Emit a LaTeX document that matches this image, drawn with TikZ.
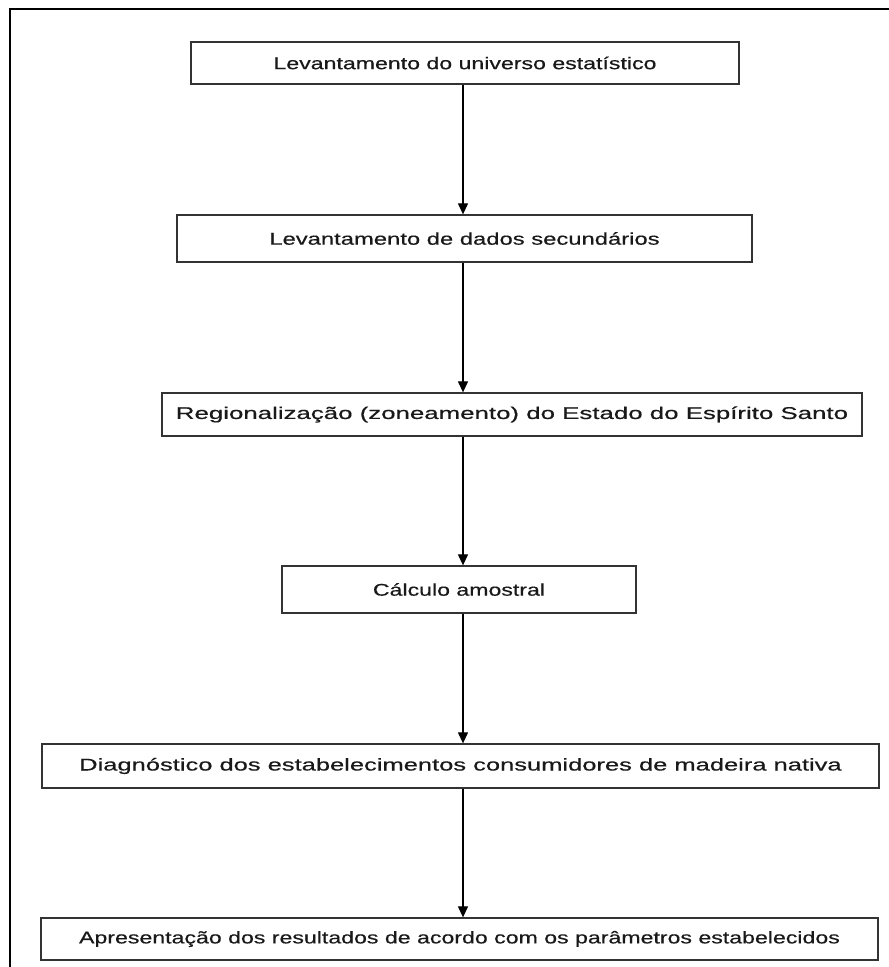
\documentclass[tikz,border=0pt]{standalone}
\usepackage{fontspec}
\setmainfont{Liberation Sans}[FakeBold=0.4]
\usepackage{graphicx}
\usetikzlibrary{arrows.meta}
\begin{document}
\begin{tikzpicture}[x=1pt,y=-1pt,
  stepbox/.style={draw=black!80,line width=1.3pt,inner sep=0pt,
    font=\fontsize{17}{20}\selectfont,text=black!90},
  arr/.style={draw=black,line width=1.2pt,-{Triangle[length=11pt,width=10pt]}}]
\useasboundingbox (0,0) rectangle (889,967);
\begin{scope}
\clip (0,0) rectangle (889,967);
\draw[line width=2.2pt] (10,9) rectangle (900,980);
\end{scope}
\newcommand{\wt}[2]{\scalebox{#1}[1]{#2}}
\node[stepbox,minimum width=548pt,minimum height=42pt] (b1) at (465,63) {\wt{1.36}{Levantamento do universo estatístico}};
\node[stepbox,minimum width=575pt,minimum height=47pt] (b2) at (464.5,238.5) {\wt{1.40}{Levantamento de dados secundários}};
\node[stepbox,minimum width=700pt,minimum height=43pt] (b3) at (512,414.5) {\wt{1.52}{Regionalização (zoneamento) do Estado do Espírito Santo}\hspace{22pt}};
\node[stepbox,minimum width=354pt,minimum height=47pt] (b4) at (459,589.5) {\wt{1.36}{Cálculo amostral}};
\node[stepbox,minimum width=837pt,minimum height=44pt] (b5) at (460.5,766) {\wt{1.50}{Diagnóstico dos estabelecimentos consumidores de madeira nativa}};
\node[stepbox,minimum width=837pt,minimum height=42pt] (b6) at (459.5,939) {\wt{1.36}{Apresentação dos resultados de acordo com os parâmetros estabelecidos}};
\coordinate (ax) at (463,0);
\draw[arr] (b1.south -| ax) -- (b2.north -| ax);
\draw[arr] (b2.south -| ax) -- (b3.north -| ax);
\draw[arr] (b3.south -| ax) -- (b4.north -| ax);
\draw[arr] (b4.south -| ax) -- (b5.north -| ax);
\draw[arr] (b5.south -| ax) -- (b6.north -| ax);
\end{tikzpicture}
\end{document}
